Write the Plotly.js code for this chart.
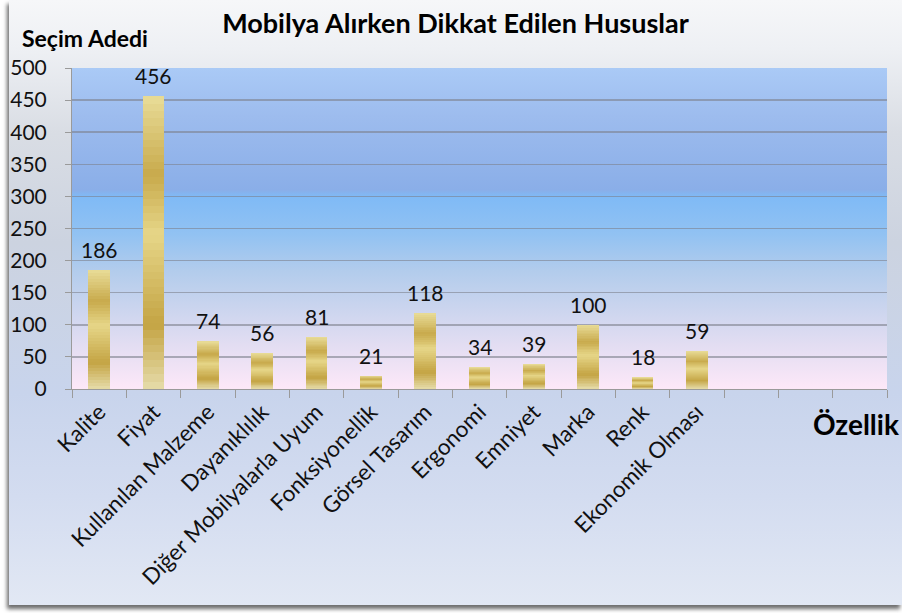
<!DOCTYPE html>
<html>
<head>
<meta charset="utf-8">
<script src="https://cdn.plot.ly/plotly-3.0.1.min.js"></script>
<style>
  html, body { margin: 0; padding: 0; background: #ffffff; }
  #wrap { position: relative; width: 902px; height: 613px; overflow: hidden; background: #fff; }
  #panel {
    position: absolute; left: 9px; top: 0; width: 893px; height: 605px;
    background: linear-gradient(to bottom, #f6f7f9 0%, #eef0f4 8%, #d9dde4 22%, #ccd3e0 40%, #c8d4ec 65%, #d3dcf0 82%, #e2e8f4 100%);
    box-shadow: -2px 4px 4px rgba(60,60,60,0.75);
  }
  #chart { position: absolute; left: 0; top: 0; width: 902px; height: 613px; }
</style>
</head>
<body>
<div id="wrap">
  <div id="panel"></div>
  <div id="chart"></div>
</div>
<script>
// ---- data ----
const categories = [
  "Kalite", "Fiyat", "Kullanılan Malzeme", "Dayanıklılık", "Diğer Mobilyalarla Uyum",
  "Fonksiyonellik", "Görsel Tasarım", "Ergonomi", "Emniyet", "Marka", "Renk",
  "Ekonomik Olması", " ", "  ", "   "
];
const values = [186, 456, 74, 56, 81, 21, 118, 34, 39, 100, 18, 59, null, null, null];

const titleText = "Mobilya Alırken Dikkat Edilen Hususlar";
const yTitleText = "Seçim Adedi";
const xTitleText = "Özellik";

// ---- gold shading (style): key colours from top (0) to bottom (1) of each bar ----
const shadeStops = [
  [0.00, [232, 220, 152]],
  [0.27, [200, 170, 76]],
  [0.47, [230, 214, 136]],
  [0.78, [196, 164, 68]],
  [1.00, [230, 220, 170]]
];
function shadeAt(t) {
  for (let k = 0; k < shadeStops.length - 1; k++) {
    const [t0, c0] = shadeStops[k], [t1, c1] = shadeStops[k + 1];
    if (t >= t0 && t <= t1) {
      const f = (t - t0) / (t1 - t0);
      return "rgb(" + c0.map((v, j) => Math.round(v + (c1[j] - v) * f)).join(",") + ")";
    }
  }
  return "rgb(230,220,170)";
}
const N = 40;
const traces = [];
for (let i = 0; i < N; i++) {
  // stacked from bottom: band i=0 is the bottom band
  const t = 1 - (i + 0.5) / N;
  traces.push({
    type: "bar",
    x: categories,
    y: values.map(v => v == null ? null : v / N),
    marker: { color: shadeAt(t), line: { width: 0 } },
    hoverinfo: "skip",
    showlegend: false
  });
}

// ---- background gradient for plot area ----
const plotBgSvg =
  '<svg xmlns="http://www.w3.org/2000/svg" width="100" height="100" preserveAspectRatio="none">' +
  '<defs><linearGradient id="g" x1="0" y1="0" x2="0" y2="1">' +
  '<stop offset="0" stop-color="#aacaf6"/>' +
  '<stop offset="0.15" stop-color="#9dbcee"/>' +
  '<stop offset="0.38" stop-color="#8aaee8"/>' +
  '<stop offset="0.40" stop-color="#7fbaf6"/>' +
  '<stop offset="0.52" stop-color="#92c2f2"/>' +
  '<stop offset="0.63" stop-color="#b2ccec"/>' +
  '<stop offset="0.74" stop-color="#c9d4ee"/>' +
  '<stop offset="0.86" stop-color="#e2ddf2"/>' +
  '<stop offset="1" stop-color="#fde8f8"/>' +
  '</linearGradient></defs><rect width="100" height="100" fill="url(#g)"/></svg>';
const plotBgUri = "data:image/svg+xml;charset=utf-8," + encodeURIComponent(plotBgSvg);

// ---- value labels ----
const labelAnnotations = categories.map((c, i) => values[i] == null ? null : ({
  x: c, y: values[i], xref: "x", yref: "y",
  text: String(values[i]), showarrow: false,
  yanchor: "bottom", yshift: 6,
  font: { family: "Lato, 'Noto Sans', sans-serif", size: 21, color: "#111" }
})).filter(a => a);

const layout = {
  width: 902, height: 613,
  margin: { l: 72, r: 15, t: 68, b: 224 },
  paper_bgcolor: "rgba(0,0,0,0)",
  plot_bgcolor: "rgba(0,0,0,0)",
  barmode: "stack",
  bargap: 0.6,
  showlegend: false,
  font: { family: "Lato, 'Noto Sans', sans-serif", color: "#111" },
  title: {
    text: "<b>" + titleText + "</b>",
    x: 0.505, xanchor: "center", y: 0.962, yanchor: "middle",
    font: { family: "Lato, 'Noto Sans', sans-serif", size: 27, color: "#000" }
  },
  xaxis: {
    type: "category",
    tickson: "boundaries",
    ticks: "outside", ticklen: 8, tickcolor: "#9a9a9a", tickwidth: 1,
    tickangle: -45,
    tickfont: { family: "Lato, 'Noto Sans', sans-serif", size: 22.5, color: "#111" },
    showline: true, linecolor: "#9a9a9a", linewidth: 1,
    showgrid: false, zeroline: false,
    range: [-0.5, 14.5],
    fixedrange: true
  },
  yaxis: {
    range: [0, 500], dtick: 50, tick0: 0,
    ticks: "outside", ticklen: 6, tickcolor: "#9a9a9a",
    ticklabelstandoff: 14,
    tickfont: { family: "Lato, 'Noto Sans', sans-serif", size: 21, color: "#111" },
    showline: true, linecolor: "#9a9a9a", linewidth: 1,
    showgrid: true, gridcolor: "rgba(125,128,140,0.6)", gridwidth: 1.5,
    zeroline: false,
    fixedrange: true
  },
  images: [{
    source: plotBgUri, xref: "paper", yref: "paper",
    x: 0, y: 1, sizex: 1, sizey: 1, xanchor: "left", yanchor: "top",
    sizing: "stretch", layer: "below"
  }],
  annotations: labelAnnotations.concat([
    {
      text: "<b>" + yTitleText + "</b>", xref: "paper", yref: "paper",
      x: 0.016, y: 1.095, xanchor: "center", yanchor: "middle", showarrow: false,
      font: { family: "Lato, 'Noto Sans', sans-serif", size: 23, color: "#000" }
    },
    {
      text: "<b>" + xTitleText + "</b>", xref: "paper", yref: "paper",
      x: 1.017, y: -0.11, xanchor: "right", yanchor: "middle", showarrow: false,
      font: { family: "Lato, 'Noto Sans', sans-serif", size: 28, color: "#000" }
    }
  ])
};

Plotly.newPlot("chart", traces, layout, { displayModeBar: false, staticPlot: true });
</script>
</body>
</html>
